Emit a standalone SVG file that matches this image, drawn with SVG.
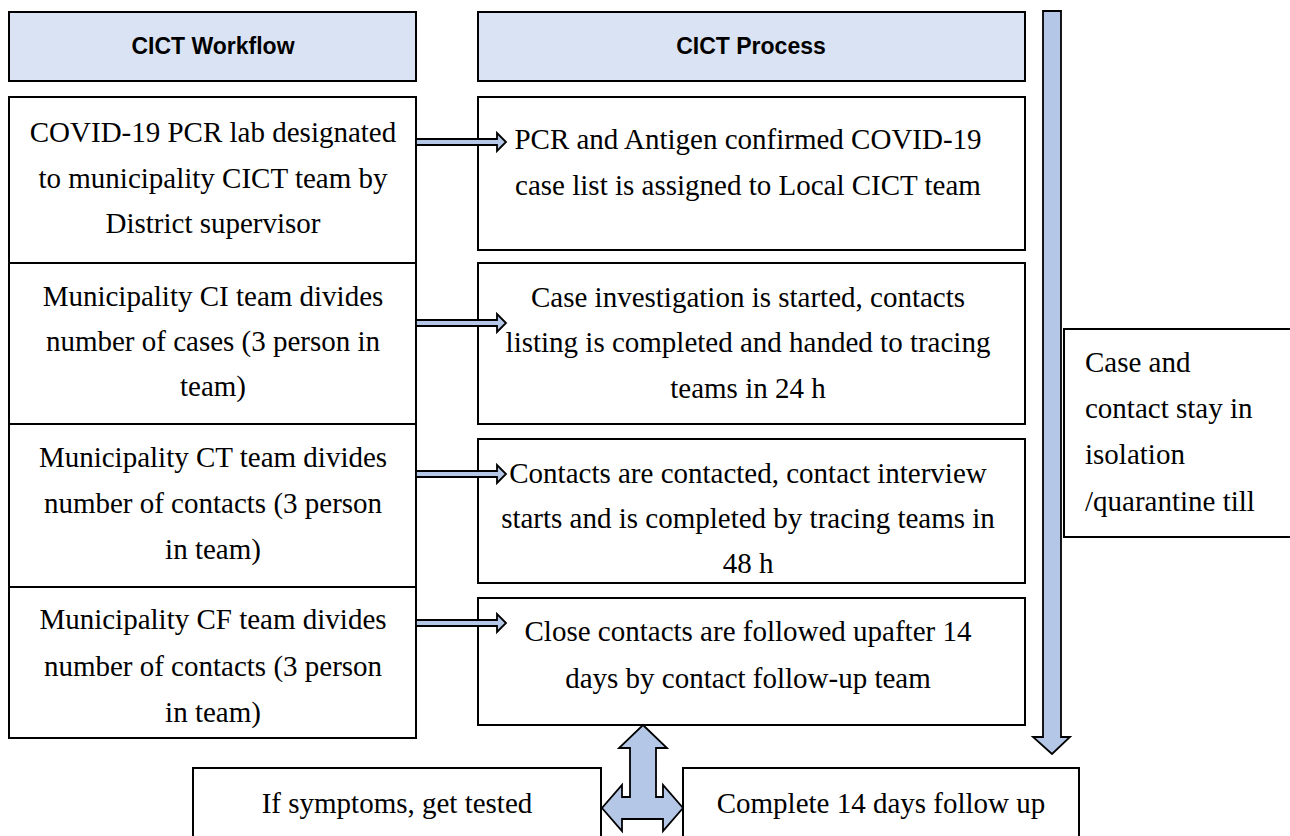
<svg xmlns="http://www.w3.org/2000/svg" width="1290" height="836" viewBox="0 0 1290 836">
<style>
.hdr{fill:#dae3f3;stroke:#000;stroke-width:2}
.box{fill:#fff;stroke:#000;stroke-width:2}
.arr{fill:#b4c7e7;stroke:#000;stroke-width:1.8;stroke-linejoin:miter}
.ht{font-family:"Liberation Sans",Arial,sans-serif;font-weight:bold;font-size:23px;fill:#000;text-anchor:middle}
.t{font-family:"Liberation Serif","Times New Roman",serif;font-size:29px;fill:#000;text-anchor:middle}
.tl{font-family:"Liberation Serif","Times New Roman",serif;font-size:29px;fill:#000}
</style>
<rect width="1290" height="836" fill="#fff"/>
<g id="hdr-workflow"><rect class="hdr" x="9" y="12" width="407" height="69"/><text class="ht" x="213" y="54">CICT Workflow</text></g>
<g id="hdr-process"><rect class="hdr" x="478" y="12" width="547" height="69"/><text class="ht" x="751" y="54">CICT Process</text></g>
<g id="w1"><rect class="box" x="9" y="97" width="407" height="166"/>
<text class="t" x="213" y="142">COVID-19 PCR lab designated</text><text class="t" x="213" y="188">to municipality CICT team by</text><text class="t" x="213" y="233">District supervisor</text></g>
<g id="w2"><rect class="box" x="9" y="263" width="407" height="161"/>
<text class="t" x="213" y="306">Municipality CI team divides</text><text class="t" x="213" y="351">number of cases (3 person in</text><text class="t" x="213" y="396">team)</text></g>
<g id="w3"><rect class="box" x="9" y="424" width="407" height="163"/>
<text class="t" x="213" y="467">Municipality CT team divides</text><text class="t" x="213" y="513">number of contacts (3 person</text><text class="t" x="213" y="559">in team)</text></g>
<g id="w4"><rect class="box" x="9" y="587" width="407" height="151"/>
<text class="t" x="213" y="629">Municipality CF team divides</text><text class="t" x="213" y="676">number of contacts (3 person</text><text class="t" x="213" y="722">in team)</text></g>
<g id="p1"><rect class="box" x="478" y="97" width="547" height="153"/>
<text class="t" x="748" y="149">PCR and Antigen confirmed COVID-19</text><text class="t" x="748" y="195">case list is assigned to Local CICT team</text></g>
<g id="p2"><rect class="box" x="478" y="263" width="547" height="161"/>
<text class="t" x="748" y="307">Case investigation is started, contacts</text><text class="t" x="748" y="352">listing is completed and handed to tracing</text><text class="t" x="748" y="398">teams in 24 h</text></g>
<g id="p3"><rect class="box" x="478" y="439" width="547" height="144"/>
<text class="t" x="748" y="483">Contacts are contacted, contact interview</text><text class="t" x="748" y="528">starts and is completed by tracing teams in</text><text class="t" x="748" y="573">48 h</text></g>
<g id="p4"><rect class="box" x="478" y="598" width="547" height="127"/>
<text class="t" x="748" y="641">Close contacts are followed upafter 14</text><text class="t" x="748" y="688">days by contact follow-up team</text></g>
<g id="iso"><rect class="box" x="1064" y="329" width="236" height="208"/>
<text class="tl" x="1085" y="372">Case and</text><text class="tl" x="1085" y="418">contact stay in</text><text class="tl" x="1085" y="464">isolation</text><text class="tl" x="1085" y="511">/quarantine till</text></g>
<g id="sym"><rect class="box" x="193" y="768" width="408" height="90"/><text class="t" x="397" y="813">If symptoms, get tested</text></g>
<g id="complete"><rect class="box" x="683" y="768" width="396" height="90"/><text class="t" x="881" y="813">Complete 14 days follow up</text></g>
<g id="connectors">
<polygon class="arr" points="416,139 497,139 497,133 506,142 497,151 497,145 416,145"/>
<polygon class="arr" points="416,320 497,320 497,314 506,323 497,332 497,326 416,326"/>
<polygon class="arr" points="416,471 497,471 497,465 506,474 497,483 497,477 416,477"/>
<polygon class="arr" points="416,620 497,620 497,614 506,623 497,632 497,626 416,626"/>
<polygon class="arr" points="1043,11 1061,11 1061,737 1070,737 1052,754 1033,737 1043,737"/>
<polygon class="arr" points="643,725 667,748 656,748 656,797 663,797 663,785 683,808 663,831 663,819 622,819 622,831 602,808 622,785 622,797 630,797 630,748 619,748"/>
</g>
</svg>
